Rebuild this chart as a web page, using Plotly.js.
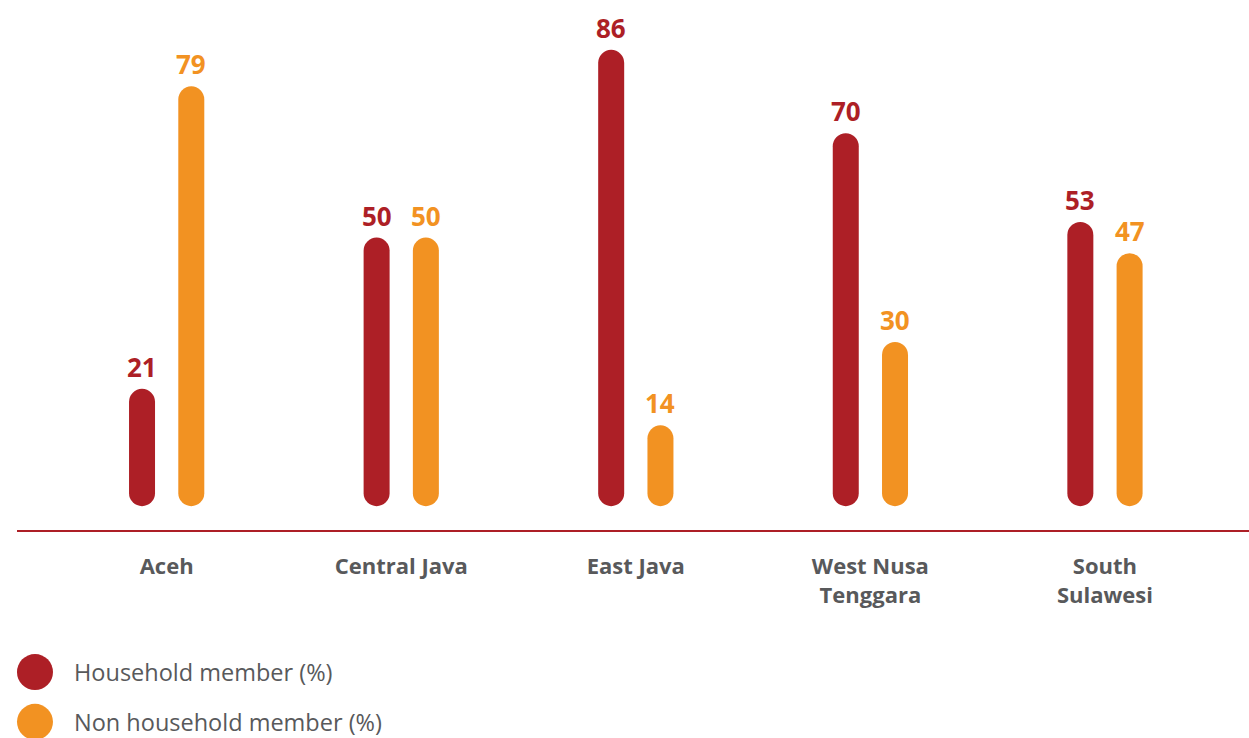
<!DOCTYPE html>
<html>
<head>
<meta charset="utf-8">
<script src="https://cdn.plot.ly/plotly-3.0.1.min.js"></script>
<style>
  html, body { margin: 0; padding: 0; background: #ffffff; }
  #chart { width: 1249px; height: 738px; }
  .scatterlayer .js-line { stroke-linecap: round; }
</style>
</head>
<body>
<div id="chart"></div>
<script>
// ---- data ----
const categories = ["Aceh", "Central Java", "East Java", "West Nusa<br>Tenggara", "South<br>Sulawesi"];
const seriesNames = ["Household member (%)", "Non household member (%)"];
const householdMember = [21, 50, 86, 70, 53];
const nonHouseholdMember = [79, 50, 14, 30, 47];

// ---- style ----
const colors = ["#ad1f26", "#f29222"];
const textGray = "#58595b";
const fontFamily = "'Open Sans', Lato, sans-serif";
const pillWidth = 26;
const pillBase = 3.5;      // visual start of each pill above the axis
const pairOffset = 0.105;  // half distance between the two pills of a group

const idx = categories.map((_, i) => i);
const seriesValues = [householdMember, nonHouseholdMember];
const offsets = [-pairOffset, pairOffset];

const traces = seriesValues.map((vals, s) => {
  const x = [], y = [];
  vals.forEach((v, i) => {
    x.push(idx[i] + offsets[s], idx[i] + offsets[s], null);
    y.push(pillBase, v, null);
  });
  return {
    type: "scatter", mode: "lines", name: seriesNames[s],
    x: x, y: y, connectgaps: false,
    line: { color: colors[s], width: pillWidth },
    hoverinfo: "skip", showlegend: false
  };
});

const annotations = [];
seriesValues.forEach((vals, s) => {
  vals.forEach((v, i) => {
    annotations.push({
      x: idx[i] + offsets[s], y: v, xref: "x", yref: "y",
      text: String(v), showarrow: false,
      xanchor: "center", yanchor: "bottom", yshift: 15,
      font: { family: fontFamily, size: 26, weight: 700, color: colors[s] }
    });
  });
});

// legend (custom, large circles)
const legendY = [-0.268, -0.362];
const shapes = [];
seriesNames.forEach((name, s) => {
  shapes.push({
    type: "circle", xref: "paper", yref: "paper",
    xsizemode: "pixel", ysizemode: "pixel",
    xanchor: 0.0146, yanchor: legendY[s],
    x0: -18, x1: 18, y0: -18, y1: 18,
    fillcolor: colors[s], line: { width: 0 }
  });
  annotations.push({
    x: 0.0447, y: legendY[s], xref: "paper", yref: "paper",
    text: name, showarrow: false, xanchor: "left", yanchor: "middle",
    font: { family: fontFamily, size: 23.5, weight: 400, color: textGray }
  });
});

const layout = {
  width: 1249, height: 738,
  margin: { l: 17, r: 0, t: 0, b: 208 },
  paper_bgcolor: "#ffffff", plot_bgcolor: "#ffffff",
  showlegend: false,
  xaxis: {
    range: [-0.638, 4.614], tickmode: "array", tickvals: idx, ticktext: categories,
    showline: true, linecolor: "#ad1f26", linewidth: 2,
    showgrid: false, zeroline: false, ticks: "",
    ticklabelstandoff: 16,
    tickfont: { family: fontFamily, size: 22, weight: 700, color: textGray },
    fixedrange: true
  },
  yaxis: {
    range: [-3.57, 98.05], visible: false, showgrid: false, zeroline: false, fixedrange: true
  },
  shapes: shapes,
  annotations: annotations
};

Plotly.newPlot("chart", traces, layout, { displayModeBar: false, staticPlot: true });
</script>
</body>
</html>
